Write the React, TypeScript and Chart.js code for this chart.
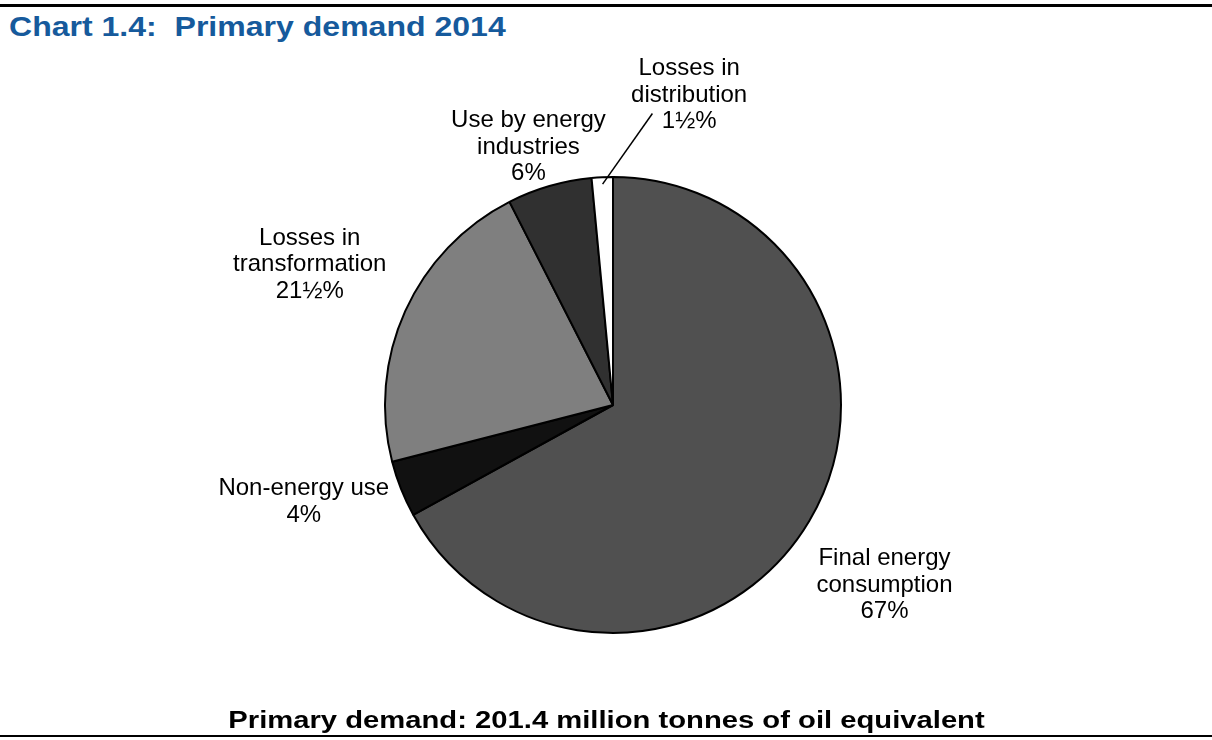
import React, { useEffect, useRef } from "react";
import { Chart, registerables } from "chart.js";

Chart.register(...registerables);

// ---- data ----
const categories: string[][] = [
  ["Final energy", "consumption"],
  ["Non-energy use"],
  ["Losses in", "transformation"],
  ["Use by energy", "industries"],
  ["Losses in", "distribution"],
];
const shares: number[] = [67, 4, 21.5, 6, 1.5];
const sliceColors: string[] = ["#505050", "#111111", "#7f7f7f", "#303030", "#ffffff"];

const titleText = "Chart 1.4:  Primary demand 2014";
const captionText = "Primary demand: 201.4 million tonnes of oil equivalent";

// ---- label styling (angle in degrees, canvas orientation; distance in pie radii) ----
const labelPlacement: number[][] = [
  [33.2, 1.423],
  [163.0, 1.418],
  [205.2, 1.47],
  [252.0, 1.2],
  [283.7, 1.41],
];
// leader line: [start radius factor (at slice mid-angle), end angle deg, end radius factor]
const leaderLines: (number[] | null)[] = [null, null, null, null, [0.97, 277.7, 1.29]];

const FONT = '"Liberation Sans", Arial, Helvetica, sans-serif';
const LINE_H = 26.5;
const TEXT_NUDGE = 2.5;

function fmtShare(v: number): string {
  const whole = Math.floor(v);
  return (v - whole === 0.5 ? `${whole}½` : `${v}`) + "%";
}

const labelPlugin = {
  id: "sliceLabels",
  afterDatasetsDraw(chart: any) {
    const ctx = chart.ctx as CanvasRenderingContext2D;
    const meta = chart.getDatasetMeta(0);
    ctx.save();
    ctx.font = `24px ${FONT}`;
    ctx.fillStyle = "#000";
    ctx.textAlign = "center";
    ctx.textBaseline = "middle";
    meta.data.forEach((arc: any, i: number) => {
      const { x, y, outerRadius, startAngle, endAngle } = arc.getProps(
        ["x", "y", "outerRadius", "startAngle", "endAngle"],
        true
      );
      const [angDeg, dist] = labelPlacement[i];
      const a = (angDeg * Math.PI) / 180;
      const cx = x + Math.cos(a) * dist * outerRadius;
      const cy = y + Math.sin(a) * dist * outerRadius + TEXT_NUDGE;
      const lines = [...categories[i], fmtShare(shares[i])];
      lines.forEach((t, j) => {
        ctx.fillText(t, cx, cy + (j - (lines.length - 1) / 2) * LINE_H);
      });
      const ll = leaderLines[i];
      if (ll) {
        const mid = (startAngle + endAngle) / 2;
        const ea = (ll[1] * Math.PI) / 180;
        ctx.beginPath();
        ctx.strokeStyle = "#000";
        ctx.lineWidth = 1.5;
        ctx.moveTo(x + Math.cos(mid) * ll[0] * outerRadius, y + Math.sin(mid) * ll[0] * outerRadius);
        ctx.lineTo(x + Math.cos(ea) * ll[2] * outerRadius, y + Math.sin(ea) * ll[2] * outerRadius);
        ctx.stroke();
      }
    });
    ctx.restore();
  },
};

export default function App() {
  const ref = useRef<HTMLCanvasElement>(null);
  useEffect(() => {
    if (!ref.current) return;
    const chart = new Chart(ref.current, {
      type: "pie",
      data: {
        labels: categories.map((c) => c.join(" ")),
        datasets: [
          {
            data: shares,
            backgroundColor: sliceColors,
            borderColor: "#000000",
            borderWidth: 2,
          },
        ],
      },
      options: {
        responsive: false,
        animation: false,
        layout: { padding: { left: 384, right: 370, top: 176, bottom: 106 } },
        plugins: {
          legend: { display: false },
          tooltip: { enabled: false },
        },
      },
      plugins: [labelPlugin],
    } as any);
    return () => chart.destroy();
  }, []);

  return (
    <div
      style={{
        position: "absolute",
        left: 0,
        top: 0,
        width: 1212,
        height: 740,
        background: "#fff",
        overflow: "hidden",
        fontFamily: FONT,
      }}
    >
      <div style={{ position: "absolute", left: 0, top: 4, width: 1212, height: 3, background: "#000" }} />
      <div
        style={{
          position: "absolute",
          left: 9,
          top: 13,
          fontSize: 28,
          lineHeight: "28px",
          fontWeight: "bold",
          color: "#165a9c",
          whiteSpace: "pre",
          transform: "scaleX(1.144)",
          transformOrigin: "0 50%",
        }}
      >
        {titleText}
      </div>
      <canvas ref={ref} width={1212} height={740} style={{ position: "absolute", left: 0, top: 0 }} />
      <div
        style={{
          position: "absolute",
          left: 0,
          width: 1213,
          top: 709,
          fontSize: 23,
          lineHeight: "23px",
          fontWeight: "bold",
          color: "#000",
          textAlign: "center",
          whiteSpace: "pre",
          transform: "scaleX(1.27)",
          transformOrigin: "50% 50%",
        }}
      >
        {captionText}
      </div>
      <div style={{ position: "absolute", left: 0, top: 735, width: 1212, height: 2, background: "#000" }} />
    </div>
  );
}
